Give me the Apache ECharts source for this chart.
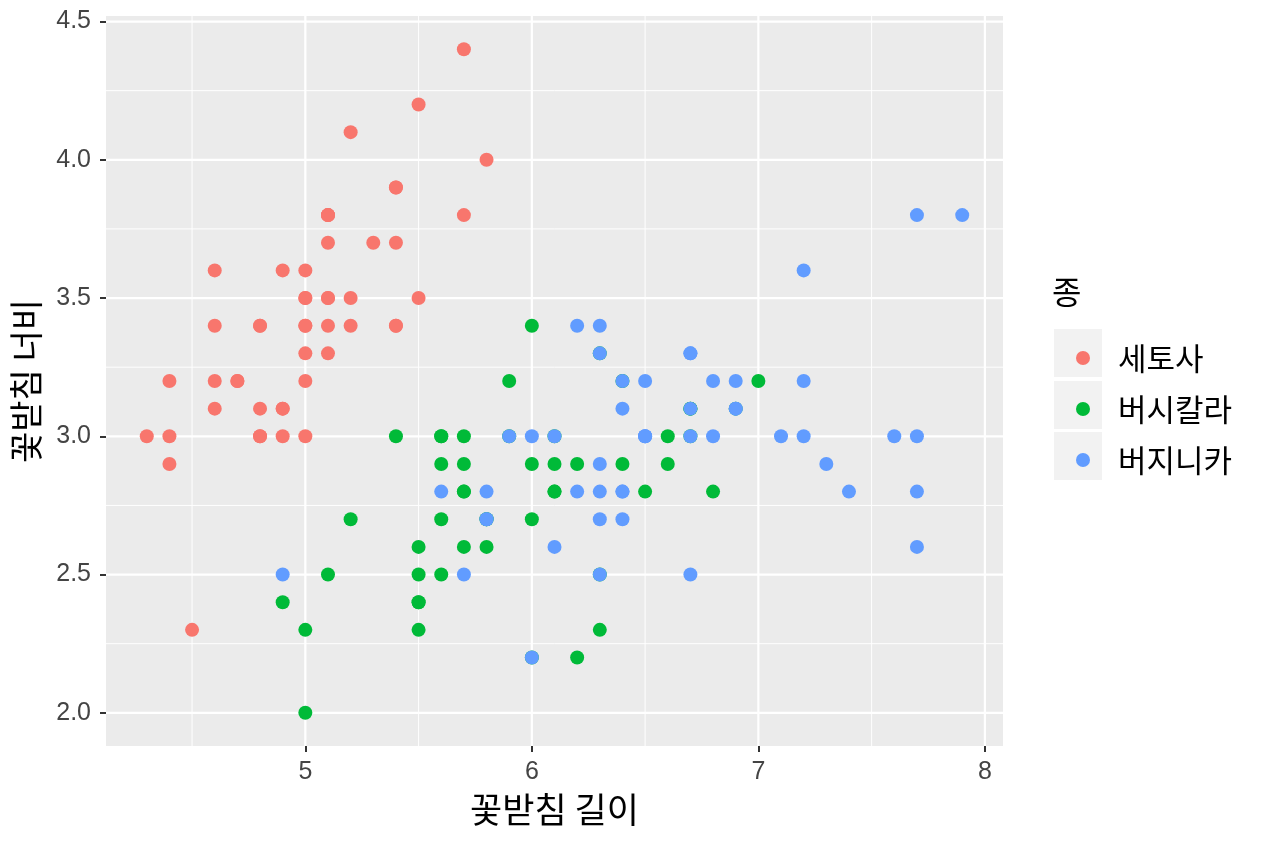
<!DOCTYPE html>
<html>
<head>
<meta charset="utf-8">
<script src="https://cdn.jsdelivr.net/npm/echarts@6/dist/echarts.min.js"></script>
<style>
html,body{margin:0;padding:0;background:#fff;}
#chart{width:1264px;height:843px;}
</style>
</head>
<body>
<div id="chart"></div>
<script>
// Sepal length / width per species
const setosa = [
[5.1,3.5],[4.9,3.0],[4.7,3.2],[4.6,3.1],[5.0,3.6],[5.4,3.9],[4.6,3.4],[5.0,3.4],[4.4,2.9],[4.9,3.1],
[5.4,3.7],[4.8,3.4],[4.8,3.0],[4.3,3.0],[5.8,4.0],[5.7,4.4],[5.4,3.9],[5.1,3.5],[5.7,3.8],[5.1,3.8],
[5.4,3.4],[5.1,3.7],[4.6,3.6],[5.1,3.3],[4.8,3.4],[5.0,3.0],[5.0,3.4],[5.2,3.5],[5.2,3.4],[4.7,3.2],
[4.8,3.1],[5.4,3.4],[5.2,4.1],[5.5,4.2],[4.9,3.1],[5.0,3.2],[5.5,3.5],[4.9,3.6],[4.4,3.0],[5.1,3.4],
[5.0,3.5],[4.5,2.3],[4.4,3.2],[5.0,3.5],[5.1,3.8],[4.8,3.0],[5.1,3.8],[4.6,3.2],[5.3,3.7],[5.0,3.3]
];
const versicolor = [
[7.0,3.2],[6.4,3.2],[6.9,3.1],[5.5,2.3],[6.5,2.8],[5.7,2.8],[6.3,3.3],[4.9,2.4],[6.6,2.9],[5.2,2.7],
[5.0,2.0],[5.9,3.0],[6.0,2.2],[6.1,2.9],[5.6,2.9],[6.7,3.1],[5.6,3.0],[5.8,2.7],[6.2,2.2],[5.6,2.5],
[5.9,3.2],[6.1,2.8],[6.3,2.5],[6.1,2.8],[6.4,2.9],[6.6,3.0],[6.8,2.8],[6.7,3.0],[6.0,2.9],[5.7,2.6],
[5.5,2.4],[5.5,2.4],[5.8,2.7],[6.0,2.7],[5.4,3.0],[6.0,3.4],[6.7,3.1],[6.3,2.3],[5.6,3.0],[5.5,2.5],
[5.5,2.6],[6.1,3.0],[5.8,2.6],[5.0,2.3],[5.6,2.7],[5.7,3.0],[5.7,2.9],[6.2,2.9],[5.1,2.5],[5.7,2.8]
];
const virginica = [
[6.3,3.3],[5.8,2.7],[7.1,3.0],[6.3,2.9],[6.5,3.0],[7.6,3.0],[4.9,2.5],[7.3,2.9],[6.7,2.5],[7.2,3.6],
[6.5,3.2],[6.4,2.7],[6.8,3.0],[5.7,2.5],[5.8,2.8],[6.4,3.2],[6.5,3.0],[7.7,3.8],[7.7,2.6],[6.0,2.2],
[6.9,3.2],[5.6,2.8],[7.7,2.8],[6.3,2.7],[6.7,3.3],[7.2,3.2],[6.2,2.8],[6.1,3.0],[6.4,2.8],[7.2,3.0],
[7.4,2.8],[7.9,3.8],[6.4,2.8],[6.3,2.8],[6.1,2.6],[7.7,3.0],[6.3,3.4],[6.4,3.1],[6.0,3.0],[6.9,3.1],
[6.7,3.1],[6.9,3.1],[5.8,2.7],[6.8,3.2],[6.7,3.3],[6.7,3.0],[6.3,2.5],[6.5,3.0],[6.2,3.4],[5.9,3.0]
];
const speciesNames = ['세토사','버시칼라','버지니카'];
const xTicks = [5,6,7,8];
const xMinorTicks = [4.5,5.5,6.5,7.5];
const yTicks = [2.0,2.5,3.0,3.5,4.0,4.5];
const yMinorTicks = [2.25,2.75,3.25,3.75,4.25];
const xRange = [4.12, 8.08];
const yRange = [1.88, 4.52];

const colors = ['#F8766D','#00BA38','#619CFF'];
const FONT = '"Liberation Sans", Arial, sans-serif';
const KFONT = '"Noto Sans CJK KR", sans-serif';

function vLines(width){
  return function(params, api){
    const cs = params.coordSys;
    const x = api.coord([api.value(0), yRange[0]])[0];
    return {type:'line', shape:{x1:x,y1:cs.y,x2:x,y2:cs.y+cs.height},
      style:{stroke:'#FFFFFF', lineWidth:width}, silent:true};
  };
}
function hLines(width){
  return function(params, api){
    const cs = params.coordSys;
    const y = api.coord([xRange[0], api.value(0)])[1];
    return {type:'line', shape:{x1:cs.x,y1:y,x2:cs.x+cs.width,y2:y},
      style:{stroke:'#FFFFFF', lineWidth:width}, silent:true};
  };
}
function gridSeries(vals, fn){
  return {type:'custom', renderItem:fn, data:vals.map(v=>[v]), silent:true, z:1,
    encode:{x:-1,y:-1}, tooltip:{show:false}};
}

const chart = echarts.init(document.getElementById('chart'), null, {renderer:'canvas'});
const dataSets = [setosa, versicolor, virginica];
chart.setOption({
  animation:false,
  backgroundColor:'#FFFFFF',
  title:{text:'종', left:1052, top:276, padding:0,
    textStyle:{fontFamily:KFONT, fontSize:32, fontWeight:'normal', color:'#000'}},
  grid:{left:106, top:16, right:261, bottom:97, show:true, backgroundColor:'#EBEBEB', borderWidth:0, containLabel:false},
  xAxis:{type:'value', min:xRange[0], max:xRange[1],
    splitLine:{show:false}, axisLine:{show:false},
    axisTick:{show:true, customValues:xTicks, length:6, lineStyle:{color:'#333333', width:2}},
    axisLabel:{customValues:xTicks, color:'#444444', fontSize:25, fontFamily:FONT, margin:14,
      formatter:v=>String(v)},
    name:'꽃받침 길이', nameLocation:'middle', nameGap:46,
    nameTextStyle:{fontFamily:KFONT, fontSize:35, color:'#000'}},
  yAxis:{type:'value', min:yRange[0], max:yRange[1],
    splitLine:{show:false}, axisLine:{show:false},
    axisTick:{show:true, customValues:yTicks, length:6, lineStyle:{color:'#333333', width:2}},
    axisLabel:{customValues:yTicks, color:'#444444', fontSize:25, fontFamily:FONT, margin:15,
      formatter:v=>Number(v).toFixed(1)},
    name:'꽃받침 너비', nameLocation:'middle', nameGap:63, nameRotate:90,
    nameTextStyle:{fontFamily:KFONT, fontSize:34, color:'#000'}},
  legend:{orient:'vertical', left:1071, top:336, itemWidth:14, itemHeight:14, itemGap:17,
    icon:'circle', data:speciesNames,
    textStyle:{fontFamily:KFONT, fontSize:31, color:'#000', lineHeight:34, padding:[0,0,0,23]}},
  graphic:[
    {type:'rect', left:1054, top:329, shape:{width:48,height:48}, style:{fill:'#F2F2F2'}, z:-1, silent:true},
    {type:'rect', left:1054, top:381, shape:{width:48,height:48}, style:{fill:'#F2F2F2'}, z:-1, silent:true},
    {type:'rect', left:1054, top:432, shape:{width:48,height:48}, style:{fill:'#F2F2F2'}, z:-1, silent:true}
  ],
  series:[
    gridSeries(xMinorTicks, vLines(1)),
    gridSeries(yMinorTicks, hLines(1)),
    gridSeries(xTicks, vLines(2.2)),
    gridSeries(yTicks, hLines(2.2)),
    ...dataSets.map((d,i)=>({
      type:'scatter', name:speciesNames[i], data:d, symbol:'circle', symbolSize:14, z:3,
      itemStyle:{color:colors[i], opacity:1}
    }))
  ]
});
</script>
</body>
</html>
